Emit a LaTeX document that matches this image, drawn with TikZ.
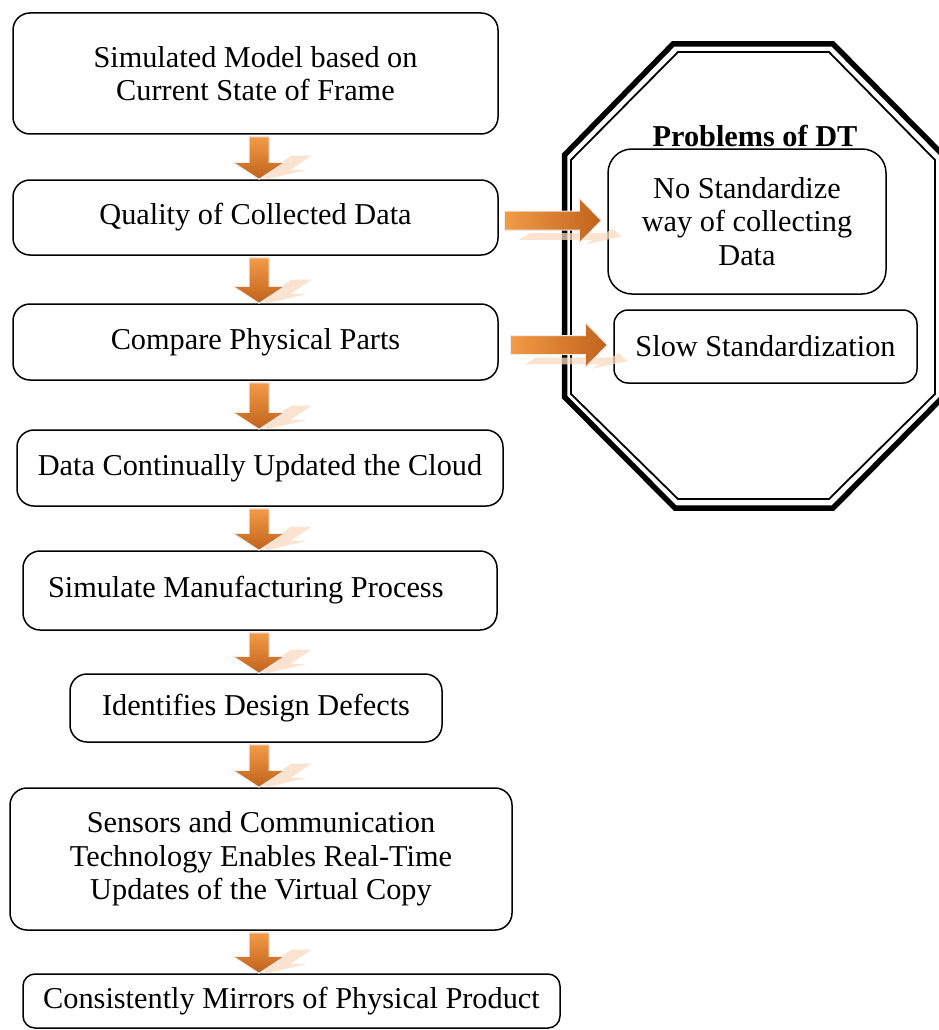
\documentclass[tikz,border=0pt]{standalone}
\usepackage{fontspec}
\setmainfont{Liberation Serif}
\usetikzlibrary{calc,positioning}
\definecolor{dtInk}{HTML}{000000}
\definecolor{dtOrangeTop}{HTML}{F39B47}
\definecolor{dtOrangeBot}{HTML}{C0621C}
\definecolor{dtShadow}{HTML}{FAD9BF}
\definecolor{dtGlow}{HTML}{EDEDED}

\tikzset{
  stepbox/.style={draw=dtInk, line width=1.5pt, rounded corners=17pt,
                  align=center, inner sep=0pt,
                  font=\fontsize{30.3}{33.5}\selectfont},
  flowfill/.style={draw=dtGlow, line width=1pt},
  flowshade/.style={fill=dtShadow, opacity=0.75},
}

% vertical block arrow from #1 (south) to #2 (north)
\newcommand{\flowdown}[2]{%
  \begin{scope}[shift={(ax |- #2.north)}, cm={1,0,0.8,0.55,(8pt,0pt)}]
    \fill[flowshade] (-10,-43) -- (10,-43) -- (10,-17) -- (26,-17) -- (0,0)
      -- (-26,-17) -- (-10,-17) -- cycle;
  \end{scope}
  \filldraw[flowfill, top color=dtOrangeTop, bottom color=dtOrangeBot]
    let \p1=(ax |- #1.south), \p2=(ax |- #2.north) in
    (\x1-10pt,\y1-2pt) -- (\x1+10pt,\y1-2pt) -- (\x1+10pt,\y2+17pt)
    -- (\x1+26pt,\y2+17pt) -- (\x2,\y2) -- (\x1-26pt,\y2+17pt)
    -- (\x1-10pt,\y2+17pt) -- cycle;
}

% horizontal block arrow from #1 (east) to #2 (west)
\newcommand{\flowright}[2]{%
  \coordinate (ht) at ($(#1.east -| #2.west)+(-6,3)$);
  \begin{scope}[shift={(ht)}, cm={1,0,0.6,0.35,(20pt,-16pt)}]
    \fill[flowshade] (-97,-9.5) -- (-22,-9.5) -- (-22,-22.5) -- (0,0)
      -- (-22,22.5) -- (-22,9.5) -- (-97,9.5) -- cycle;
  \end{scope}
  \begin{scope}[shift={(ht)}]
    \filldraw[flowfill, left color=dtOrangeTop, right color=dtOrangeBot]
      (-97,-9.5) -- (-22,-9.5) -- (-22,-22.5) -- (0,0)
      -- (-22,22.5) -- (-22,9.5) -- (-97,9.5) -- cycle;
  \end{scope}
}

\begin{document}
\begin{tikzpicture}[x=1pt, y=-1pt, line join=miter]

\useasboundingbox (0,0) rectangle (938,1030);

% --- octagon frame ---
\draw[dtInk, line width=5.5pt]
  (673,44) -- (833,44) -- (943,155) -- (943,397) -- (833,508)
  -- (675,508) -- (564.5,397) -- (564.5,155) -- cycle;
\draw[dtInk, line width=1.8pt]
  (678,52) -- (829,52) -- (935,160) -- (935,394) -- (829,499)
  -- (678,499) -- (571,394) -- (571,160) -- cycle;

\node[font=\bfseries\fontsize{30.3}{33.5}\selectfont] (title) at (755,136)
  {Problems of DT};

% --- problems ---
\node[stepbox, minimum width=278, minimum height=145, rounded corners=24pt]
  (p1) at (747,221.5) {No Standardize\\way of collecting\\Data};
\node[stepbox, minimum width=303, minimum height=73, rounded corners=14pt]
  (p2) at (765.5,346.5) {Slow Standardization};

% --- main flow ---
\coordinate (ax) at (259,0);
\node[stepbox, minimum width=485, minimum height=121] (b1) at (255.5,73.5)
  {Simulated Model based on\\Current State of Frame};
\node[stepbox, minimum width=485, minimum height=75] (b2) at (255.5,217.5)
  {Quality of Collected Data};
\node[stepbox, minimum width=485, minimum height=76] (b3) at (255.5,342)
  {Compare Physical Parts};
\node[stepbox, minimum width=486, minimum height=76] (b4) at (260,468)
  {Data Continually Updated the Cloud};
\node[stepbox, minimum width=474, minimum height=79, text width=424,
      align=flush left, inner xsep=25pt] (b5) at (260,590.5)
  {Simulate Manufacturing Process};
\node[stepbox, minimum width=372, minimum height=68] (b6) at (256,708)
  {Identifies Design Defects};
\node[stepbox, minimum width=502, minimum height=142] (b7) at (261,859)
  {Sensors and Communication\\Technology Enables Real-Time\\Updates of the Virtual Copy};
\node[stepbox, minimum width=537, minimum height=54, rounded corners=12pt]
  (b8) at (291.5,1001) {Consistently Mirrors of Physical Product};

% --- arrows ---
\flowdown{b1}{b2}
\flowdown{b2}{b3}
\flowdown{b3}{b4}
\flowdown{b4}{b5}
\flowdown{b5}{b6}
\flowdown{b6}{b7}
\flowdown{b7}{b8}
\flowright{b2}{p1}
\flowright{b3}{p2}

\end{tikzpicture}
\end{document}
